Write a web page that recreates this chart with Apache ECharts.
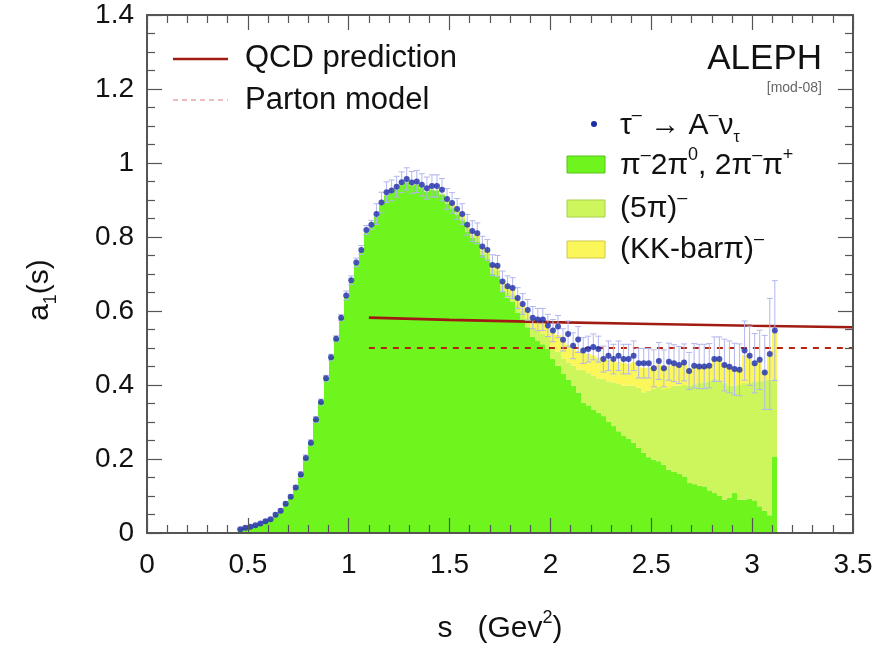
<!DOCTYPE html>
<html>
<head>
<meta charset="utf-8">
<script src="https://cdn.jsdelivr.net/npm/echarts@6/dist/echarts.min.js"></script>
<style>html,body{margin:0;padding:0;background:#fff;}#c{width:890px;height:649px;}</style>
</head>
<body>
<div id="c"></div>
<script>
// ---- data ----
const BIN_FIRST = 0.4625;   // centre of first bin (GeV^2)
const BIN_WIDTH = 0.025;    // bin width (GeV^2)

// tau -> A nu data points a1(s)
const dataValues = [
 0.010,0.014,0.017,0.021,0.026,0.032,0.037,0.049,0.060,0.079,
 0.098,0.123,0.158,0.203,0.244,0.307,0.354,0.418,0.475,0.525,
 0.582,0.642,0.683,0.731,0.765,0.819,0.833,0.862,0.893,0.921,
 0.926,0.936,0.948,0.957,0.947,0.950,0.941,0.932,0.938,0.938,
 0.928,0.903,0.892,0.876,0.862,0.833,0.816,0.810,0.774,0.765,
 0.724,0.722,0.680,0.667,0.662,0.635,0.619,0.603,0.582,0.577,
 0.577,0.561,0.547,0.558,0.522,0.538,0.506,0.523,0.493,0.497,
 0.503,0.497,0.470,0.479,0.470,0.479,0.470,0.470,0.479,0.459,
 0.459,0.459,0.445,0.465,0.445,0.463,0.459,0.454,0.461,0.438,
 0.452,0.450,0.450,0.452,0.470,0.470,0.454,0.449,0.443,0.441,
 0.493,0.479,0.459,0.468,0.434,0.484,0.547
];
// symmetric errors
const dataErrors = [
 0.003,0.003,0.003,0.003,0.003,0.003,0.003,0.005,0.005,0.005,
 0.005,0.005,0.008,0.008,0.008,0.008,0.008,0.008,0.008,0.008,
 0.008,0.012,0.012,0.012,0.012,0.012,0.012,0.028,0.028,0.028,
 0.028,0.028,0.028,0.030,0.030,0.030,0.030,0.030,0.030,0.030,
 0.030,0.028,0.028,0.028,0.028,0.028,0.028,0.028,0.028,0.028,
 0.028,0.028,0.028,0.028,0.028,0.028,0.028,0.028,0.030,0.030,
 0.030,0.030,0.030,0.030,0.030,0.035,0.035,0.035,0.035,0.035,
 0.035,0.035,0.035,0.040,0.040,0.040,0.040,0.040,0.040,0.040,
 0.040,0.040,0.050,0.050,0.050,0.050,0.050,0.050,0.050,0.050,
 0.060,0.060,0.060,0.060,0.060,0.060,0.070,0.070,0.070,0.070,
 0.080,0.080,0.080,0.080,0.100,0.150,0.135
];
// pi- 2pi0, 2pi- pi+ component
const threePi = [
 0.010,0.014,0.017,0.021,0.026,0.032,0.037,0.049,0.060,0.079,
 0.098,0.123,0.158,0.203,0.244,0.307,0.354,0.418,0.475,0.525,
 0.580,0.638,0.678,0.726,0.760,0.812,0.826,0.855,0.886,0.913,
 0.918,0.928,0.940,0.948,0.938,0.941,0.932,0.922,0.927,0.926,
 0.915,0.890,0.878,0.860,0.845,0.815,0.797,0.788,0.752,0.740,
 0.700,0.694,0.652,0.636,0.626,0.596,0.578,0.556,0.530,0.520,
 0.510,0.498,0.470,0.452,0.430,0.415,0.398,0.380,0.352,0.345,
 0.334,0.325,0.316,0.300,0.289,0.275,0.262,0.255,0.244,0.230,
 0.217,0.205,0.198,0.194,0.185,0.171,0.165,0.160,0.153,0.135,
 0.132,0.128,0.126,0.115,0.108,0.100,0.090,0.095,0.108,0.090,
 0.090,0.092,0.088,0.072,0.060,0.048,0.207
];
// (5pi)- component
const fivePi = [
 0,0,0,0,0,0,0,0,0,0,
 0,0,0,0,0,0,0,0,0,0,
 0,0,0,0,0,0,0,0,0,0,
 0,0.002,0.002,0.002,0.002,0.002,0.002,0.002,0.002,0.002,
 0.002,0.005,0.006,0.008,0.008,0.010,0.010,0.012,0.012,0.014,
 0.014,0.016,0.016,0.018,0.020,0.020,0.022,0.024,0.026,0.028,
 0.030,0.032,0.034,0.038,0.042,0.046,0.054,0.062,0.088,0.087,
 0.091,0.093,0.100,0.110,0.118,0.128,0.136,0.143,0.154,0.162,
 0.163,0.180,0.191,0.201,0.204,0.221,0.233,0.238,0.247,0.263,
 0.270,0.277,0.281,0.295,0.308,0.312,0.315,0.303,0.290,0.310,
 0.315,0.313,0.320,0.338,0.352,0.366,0.209
];
// (KK-bar pi)- component
const kkPi = [
 0,0,0,0,0,0,0,0,0,0,
 0,0,0,0,0,0,0,0,0,0,
 0,0,0,0,0,0,0,0,0,0,
 0,0,0,0,0,0,0,0,0,0,
 0,0.004,0.004,0.005,0.006,0.006,0.007,0.008,0.008,0.009,
 0.010,0.011,0.012,0.013,0.014,0.015,0.016,0.018,0.022,0.024,
 0.028,0.026,0.038,0.045,0.045,0.048,0.045,0.050,0.048,0.052,
 0.055,0.056,0.050,0.058,0.055,0.060,0.062,0.060,0.064,0.058,
 0.066,0.062,0.052,0.060,0.055,0.060,0.055,0.052,0.055,0.042,
 0.048,0.045,0.043,0.040,0.052,0.055,0.048,0.048,0.044,0.040,
 0.075,0.065,0.048,0.055,0.022,0.062,0.125
];
// QCD prediction and parton model
const qcdS = [1.1, 1.5, 2.0, 2.5, 3.0, 3.5];
const qcdV = [0.582, 0.576, 0.570, 0.565, 0.560, 0.556];
const partonS = [1.1, 3.5];
const partonV = [0.5, 0.5];
// axis ticks
const xTicks = {min: 0, max: 3.5, step: 0.5};
const yTicks = {min: 0, max: 1.4, step: 0.2};

// ---- build ----
const F = "'Liberation Sans', Arial, Helvetica, sans-serif";
const centers = dataValues.map((_, i) => +(BIN_FIRST + i * BIN_WIDTH).toFixed(4));
const HALF = BIN_WIDTH / 2;

const greenBand = [], fiveBand = [], kkBand = [];
centers.forEach((s, i) => {
  const a = threePi[i], b = a + fivePi[i], c = b + kkPi[i];
  greenBand.push([s, 0, a]);
  fiveBand.push([s, a, b]);
  kkBand.push([s, b, c]);
});
const pts = centers.map((s, i) => [s, dataValues[i]]);
const errs = centers.map((s, i) => [s, dataValues[i] - dataErrors[i], dataValues[i] + dataErrors[i]]);

function bandSeries(data, color, z) {
  return {
    type: 'custom', data: data, z: z, silent: true,
    renderItem: function (params, api) {
      const s = api.value(0), lo = api.value(1), hi = api.value(2);
      if (!(hi > lo)) return {type: 'group', children: []};
      const p0 = api.coord([s - HALF, hi]);
      const p1 = api.coord([s + HALF, lo]);
      const x0 = Math.round(p0[0]), x1 = Math.round(p1[0]);
      return {type: 'rect', shape: {x: x0, y: p0[1], width: x1 - x0, height: p1[1] - p0[1]},
        style: {fill: color, stroke: null}};
    }
  };
}

const GREEN = '#6ef51e', LGREEN = '#cdf55c', YELLOW = '#fbf65a';
const RED = '#a01c12';
const BLUE = '#1c2ca6';
const ERRC = '#b3b7ec';

const axisCommon = {
  axisLine: {show: true, onZero: false, lineStyle: {color: '#555', width: 2}},
  axisTick: {show: true, inside: true, length: 15, lineStyle: {color: '#555', width: 1.2}},
  minorTick: {show: true, length: 8, lineStyle: {color: '#555', width: 1.2}},
  splitLine: {show: false}, z: 10
};

const option = {
  animation: false,
  backgroundColor: '#fff',
  grid: {left: 147, right: 37, top: 15, bottom: 116, containLabel: false},
  xAxis: [
    Object.assign({type: 'value', min: xTicks.min, max: xTicks.max, interval: xTicks.step, position: 'bottom',
      axisLabel: {fontSize: 28, color: '#111', fontFamily: F, margin: 18}}, axisCommon,
      {minorTick: Object.assign({}, axisCommon.minorTick, {splitNumber: 5})}),
    Object.assign({type: 'value', min: xTicks.min, max: xTicks.max, interval: xTicks.step, position: 'top',
      axisLabel: {show: false}}, axisCommon,
      {minorTick: Object.assign({}, axisCommon.minorTick, {splitNumber: 5})})
  ],
  yAxis: [
    Object.assign({type: 'value', min: yTicks.min, max: yTicks.max, interval: yTicks.step, position: 'left',
      axisLabel: {fontSize: 28, color: '#111', fontFamily: F, margin: 13, padding: [4, 0, 0, 0]}}, axisCommon,
      {minorTick: Object.assign({}, axisCommon.minorTick, {splitNumber: 4})}),
    Object.assign({type: 'value', min: yTicks.min, max: yTicks.max, interval: yTicks.step, position: 'right',
      axisLabel: {show: false}}, axisCommon,
      {minorTick: Object.assign({}, axisCommon.minorTick, {splitNumber: 4})})
  ],
  series: [
    bandSeries(greenBand, GREEN, 1),
    bandSeries(fiveBand, LGREEN, 1),
    bandSeries(kkBand, YELLOW, 1),
    {type: 'line', data: qcdS.map((s, i) => [s, qcdV[i]]), symbol: 'none', z: 3, silent: true,
      lineStyle: {color: RED, width: 2.6}},
    {type: 'line', data: partonS.map((s, i) => [s, partonV[i]]), symbol: 'none', z: 3, silent: true,
      lineStyle: {color: '#b8230f', width: 2.2, type: [6, 6]}},
    {type: 'custom', data: errs, z: 4, silent: true,
      renderItem: function (params, api) {
        const s = api.value(0);
        const pLo = api.coord([s, api.value(1)]);
        const pHi = api.coord([s, api.value(2)]);
        const st = {stroke: ERRC, lineWidth: 1};
        return {type: 'group', children: [
          {type: 'line', shape: {x1: pLo[0], y1: pLo[1], x2: pHi[0], y2: pHi[1]}, style: st},
          {type: 'line', shape: {x1: pLo[0] - 3, y1: pLo[1], x2: pLo[0] + 3, y2: pLo[1]}, style: st},
          {type: 'line', shape: {x1: pHi[0] - 3, y1: pHi[1], x2: pHi[0] + 3, y2: pHi[1]}, style: st}
        ]};
      }},
    {type: 'scatter', data: pts, symbol: 'circle', symbolSize: 6, z: 5, silent: true,
      itemStyle: {color: BLUE}}
  ],
  graphic: [
    // left legend
    {type: 'line', shape: {x1: 173, y1: 59, x2: 228, y2: 59}, style: {stroke: RED, lineWidth: 2.6}, z: 20},
    {type: 'text', x: 245, y: 58, z: 20, style: {text: 'QCD prediction', font: '31px ' + F, fill: '#111', verticalAlign: 'middle'}},
    {type: 'line', shape: {x1: 173, y1: 100, x2: 228, y2: 100}, style: {stroke: '#e6a7a3', lineWidth: 1.5, lineDash: [5, 4]}, z: 20},
    {type: 'text', x: 245, y: 100, z: 20, style: {text: 'Parton model', font: '31px ' + F, fill: '#111', verticalAlign: 'middle'}},
    // right labels
    {type: 'text', x: 822, y: 59, z: 20, style: {text: 'ALEPH', font: '35px ' + F, fill: '#111', align: 'right', verticalAlign: 'middle'}},
    {type: 'text', x: 822, y: 88, z: 20, style: {text: '[mod-08]', font: '14px ' + F, fill: '#666', align: 'right', verticalAlign: 'middle'}},
    {type: 'circle', shape: {cx: 594, cy: 124, r: 3}, style: {fill: BLUE}, z: 20},
    {type: 'rect', shape: {x: 567, y: 156, width: 38, height: 17}, style: {fill: GREEN, stroke: '#57c21a', lineWidth: 1}, z: 20},
    {type: 'rect', shape: {x: 567, y: 200, width: 38, height: 17}, style: {fill: LGREEN, stroke: '#a9d04a', lineWidth: 1}, z: 20},
    {type: 'rect', shape: {x: 567, y: 241, width: 38, height: 17}, style: {fill: YELLOW, stroke: '#cfc84a', lineWidth: 1}, z: 20},
    {type: 'text', x: 620, y: 126, z: 20, style: {
      text: '{b|τ}{sup|–}{b| → A}{sup|–}{b|ν}{sub|τ}', verticalAlign: 'middle',
      rich: {b: {fontSize: 30, fontFamily: F, fill: '#111', lineHeight: 40},
             sup: {fontSize: 18, fontFamily: F, fill: '#111', lineHeight: 18, verticalAlign: 'top'},
             sub: {fontSize: 16, fontFamily: F, fill: '#111', lineHeight: 16, verticalAlign: 'bottom'}}}},
    {type: 'text', x: 620, y: 166, z: 20, style: {
      text: '{b|π}{sup|–}{b|2π}{sup|0}{b|, 2π}{sup|–}{b|π}{sup|+}', verticalAlign: 'middle',
      rich: {b: {fontSize: 30, fontFamily: F, fill: '#111', lineHeight: 40},
             sup: {fontSize: 18, fontFamily: F, fill: '#111', lineHeight: 18, verticalAlign: 'top'}}}},
    {type: 'text', x: 620, y: 209, z: 20, style: {
      text: '{b|(5π)}{sup|–}', verticalAlign: 'middle',
      rich: {b: {fontSize: 30, fontFamily: F, fill: '#111', lineHeight: 40},
             sup: {fontSize: 18, fontFamily: F, fill: '#111', lineHeight: 18, verticalAlign: 'top'}}}},
    {type: 'text', x: 620, y: 250, z: 20, style: {
      text: '{b|(KK-barπ)}{sup|–}', verticalAlign: 'middle',
      rich: {b: {fontSize: 30, fontFamily: F, fill: '#111', lineHeight: 40},
             sup: {fontSize: 18, fontFamily: F, fill: '#111', lineHeight: 18, verticalAlign: 'top'}}}},
    // axis titles
    {type: 'text', x: 500, y: 629, z: 20, style: {
      text: '{b|s   (Gev}{sup|2}{b|)}', align: 'center', verticalAlign: 'middle',
      rich: {b: {fontSize: 30, fontFamily: F, fill: '#111', lineHeight: 40},
             sup: {fontSize: 18, fontFamily: F, fill: '#111', lineHeight: 18, verticalAlign: 'top'}}}},
    {type: 'text', x: 40, y: 290, rotation: Math.PI / 2, z: 20, style: {
      text: '{b|a}{sub|1}{b|(s)}', align: 'center', verticalAlign: 'middle',
      rich: {b: {fontSize: 30, fontFamily: F, fill: '#111', lineHeight: 40},
             sub: {fontSize: 18, fontFamily: F, fill: '#111', lineHeight: 18, verticalAlign: 'bottom'}}}}
  ]
};

const chart = echarts.init(document.getElementById('c'), null, {renderer: 'canvas'});
chart.setOption(option);
</script>
</body>
</html>
